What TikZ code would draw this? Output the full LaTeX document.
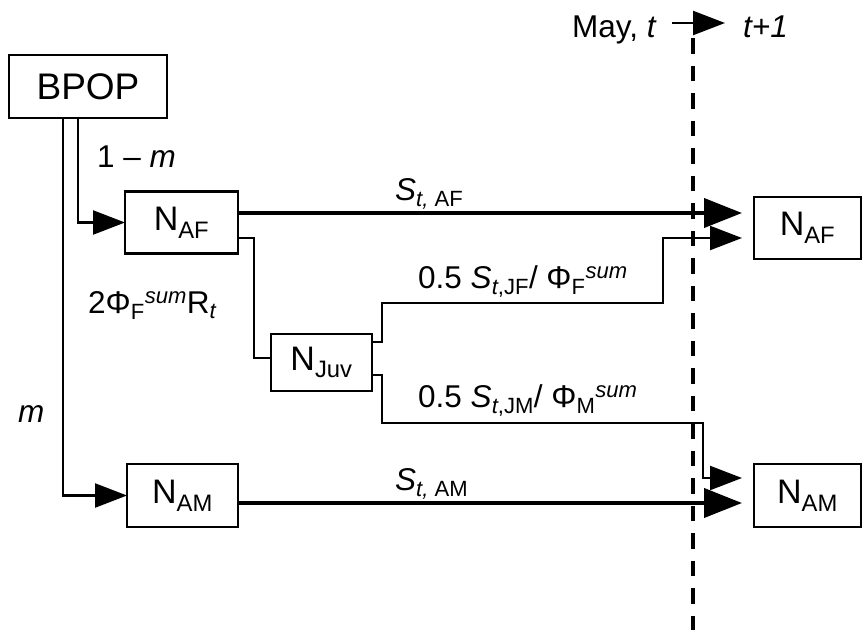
\documentclass[tikz,border=0pt]{standalone}
\usepackage{fontspec}
\setmainfont{Liberation Sans}
\usetikzlibrary{positioning, arrows.meta}

\newcommand{\lblfont}{\fontsize{31.5}{37}\selectfont}
\newcommand{\boxfont}{\fontsize{34}{40}\selectfont}

\begin{document}
\begin{tikzpicture}[x=1pt, y=-1pt,
  box/.style={draw, line width=2.7pt, outer sep=0pt, inner sep=0pt, font=\boxfont},
  lbl/.style={inner sep=0pt, font=\lblfont, anchor=base west},
  thinarr/.style={line width=2.3pt, -{Triangle[length=32pt,width=24pt]}},
  thickarr/.style={line width=4pt, -{Triangle[length=38pt,width=29pt]}}]
\useasboundingbox (0,0) rectangle (863,630);

% boxes
\node (bpop) [box, minimum width=158pt, minimum height=63pt, font=\fontsize{37}{42}\selectfont] at (88,86.5) {BPOP};
\node (naf) [box, minimum width=113pt, minimum height=62pt] at (181.5,222.5) {N\textsubscript{AF}};
\node (njuv) [box, minimum width=101pt, minimum height=57pt] at (321.5,362.5) {N\textsubscript{Juv}};
\node (nam) [box, minimum width=111pt, minimum height=63pt] at (182.5,495.5) {N\textsubscript{AM}};
\node (nafr) [box, minimum width=107pt, minimum height=62pt] at (807.5,228) {N\textsubscript{AF}};
\node (namr) [box, minimum width=107pt, minimum height=63pt] at (807.5,495.5) {N\textsubscript{AM}};

% time line
\node (may) [lbl] at (572,37) {May, \textit{t}};
\node (tnext) [lbl] at (743,37) {\textit{t+1}};
\coordinate (tline) at (0,23);
\draw[thinarr, shorten <=15pt, shorten >=18pt] (may.east |- tline) -- (tnext.west |- tline);
\draw[line width=4pt, dash pattern=on 15.5pt off 12pt] (693,38) -- (693,630);

% flows
\draw[thinarr] ([xshift=-10pt]bpop.south) |- (naf.west);
\draw[thinarr] ([xshift=-25pt]bpop.south) |- (nam.west);
\draw[thickarr, shorten >=12pt] ([yshift=9.5pt]naf.east) -- ([yshift=9.5pt]naf.east -| nafr.west);
\draw[thickarr, shorten >=12pt] ([yshift=-7.5pt]nam.east) -- ([yshift=-7.5pt]nam.east -| namr.west);
\draw[line width=2.3pt] ([yshift=-15.5pt]naf.east) -- ++(16,0) |- ([yshift=4.5pt]njuv.west);
\coordinate (jfbend) at (663,303);
\coordinate (jmbend) at (703,423);
\draw[thinarr, shorten >=12pt] ([yshift=20.5pt]njuv.east) -- ++(10,0) |- (jfbend) |- ([yshift=-10pt]nafr.west);
\draw[thinarr, shorten >=12pt] ([yshift=-12.5pt]njuv.east) -- ++(10,0) |- (jmbend) |- ([yshift=17.5pt]namr.west);

% labels
\node (lone) [lbl] at (97,167) {1 – \textit{m}};
\node (lm) [lbl] at (18,422) {\textit{m}};
\node (lrec) [lbl] at (88,313) {2Φ\textsubscript{F}\textsuperscript{\textit{sum}}R\textsubscript{\textit{t}}};
\node (lsaf) [lbl] at (395,200) {\textit{S}\textsubscript{\textit{t,} AF}};
\node (lsam) [lbl] at (395,490) {\textit{S}\textsubscript{\textit{t,} AM}};
\node (ljf) [lbl] at (418,288) {0.5 \textit{S}\textsubscript{\textit{t},JF}/ Φ\textsubscript{F}\textsuperscript{\textit{sum}}};
\node (ljm) [lbl] at (418,407) {0.5 \textit{S}\textsubscript{\textit{t},JM}/ Φ\textsubscript{M}\textsuperscript{\textit{sum}}};
\end{tikzpicture}
\end{document}
